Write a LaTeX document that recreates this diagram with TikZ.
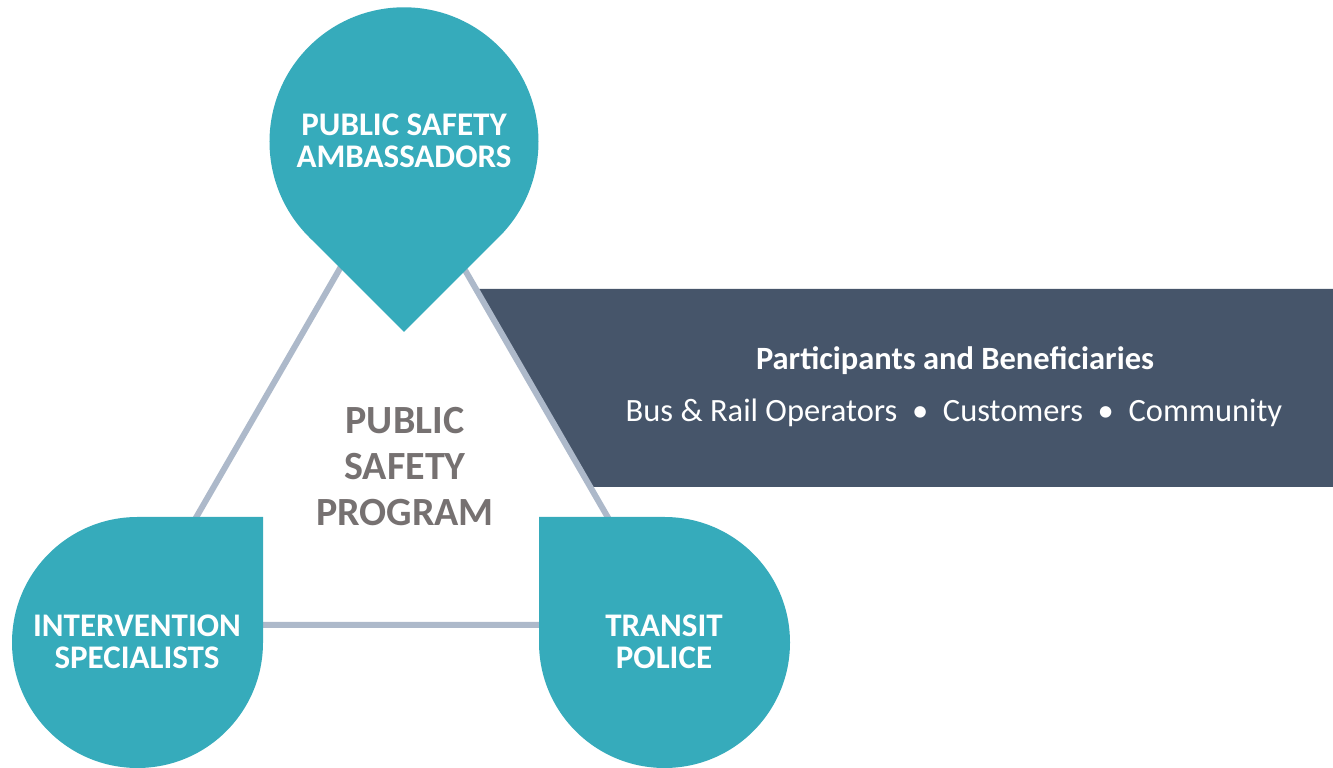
\documentclass[tikz,border=0pt]{standalone}
\usepackage{fontspec}
\setmainfont{Carlito}
\usepackage{tikz}

\definecolor{tealdrop}{HTML}{36ABBB}
\definecolor{slatebar}{HTML}{46556A}
\definecolor{edgegray}{HTML}{ADB9CA}
\definecolor{hubgray}{HTML}{767171}

\begin{document}
\begin{tikzpicture}[x=1pt, y=1pt,
        drop/.style={fill=tealdrop},
        edge/.style={draw=edgegray, line width=6pt},
        droplabel/.style={text=white, align=center, inner sep=0pt,
            font=\fontsize{33}{32}\selectfont\bfseries},
        barlabel/.style={text=white, anchor=base, inner sep=0pt}]
    \useasboundingbox (0, 0) rectangle (1333, 768);

    \coordinate (apex) at (402, 607);
    \coordinate (left) at (134, 143);
    \coordinate (right) at (670, 143);

    % participants bar
    \fill[slatebar] (476, 479) -- (1333, 479) -- (1333, 281) -- (590, 281) -- cycle;

    \draw[edge] (apex) -- (left) -- (right) -- cycle;

    % the three drops
    \fill[drop] (404, 436) -- ++(95.1, 95.1)
        arc[start angle=-45, end angle=225, radius=134.5] -- cycle;
    \fill[drop] (263, 251) -- (137.5, 251)
        arc[start angle=90, end angle=360, radius=125.5] -- cycle;
    \fill[drop] (539, 251) -- (664.5, 251)
        arc[start angle=90, end angle=-180, radius=125.5] -- cycle;

    \node[droplabel] (ambassadors) at (404, 627) {PUBLIC SAFETY\\AMBASSADORS};
    \node[droplabel] (intervention) at (137, 126) {INTERVENTION\\SPECIALISTS};
    \node[droplabel] (transit) at (664, 126) {TRANSIT\\POLICE};

    \node[text=hubgray, align=center, inner sep=0pt,
        font=\fontsize{40}{46}\selectfont\bfseries] (program) at (405, 301)
        {PUBLIC\\SAFETY\\PROGRAM};

    \node[barlabel, font=\fontsize{32.5}{34}\selectfont\bfseries] (participants) at (955, 398)
        {Participants and Beneficiaries};
    \node[barlabel, font=\fontsize{32.5}{34}\selectfont] (groups) at (954, 346)
        {Bus \& Rail Operators\ \ \textbullet\ \ Customers\ \ \textbullet\ \ Community};
\end{tikzpicture}
\end{document}
